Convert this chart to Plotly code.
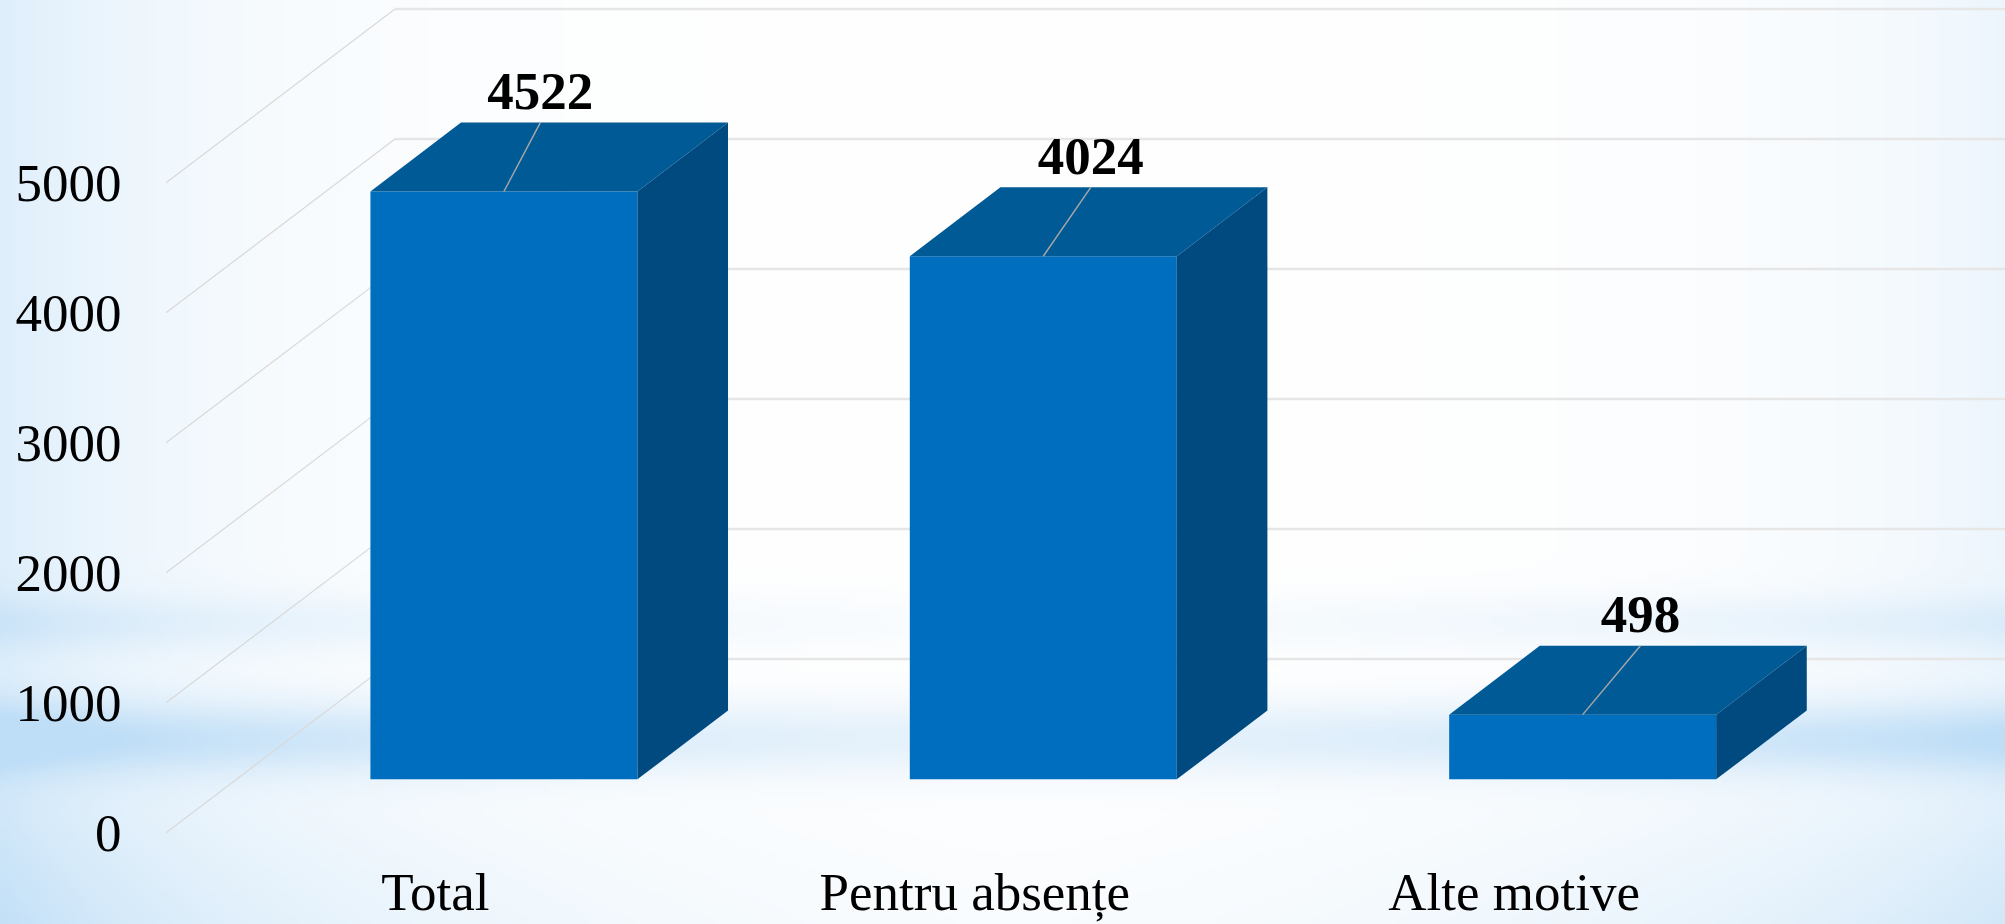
import base64, struct, zlib
import numpy as np
import plotly.graph_objects as go

categories = ["Total", "Pentru absențe", "Alte motive"]
values = [4522, 4024, 498]
axis_ticks = [0, 1000, 2000, 3000, 4000, 5000]

W, H = 2005, 924
FONT = "Liberation Serif"
FRONT, TOP, SIDE = "#006EBF", "#005A96", "#004A80"
GRID, DIAG, LEADER = "#E6E6E6", "#D8D8D8", "#A6A6A6"

# projection of the pseudo-3D box, in axis units
BAR_W = 0.495
BOX_DX, BOX_DY = 0.168, 530
WALL_DX, WALL_BACK, WALL_FRONT = 0.4245, 925, -411
LEADER_DX = [0.0675, 0.088, 0.107]
LABEL_DX = -0.127
X_RANGE = [-0.6265, 2.783]
Y_RANGE = [-451, 5995]


def background_png():
    w, h = 400, 185
    x = np.linspace(0, 1, w)[None, :]
    y = np.linspace(0, 1, h)[:, None]
    edge = np.maximum(np.exp(-x / 0.10), 0.55 * np.exp(-(1 - x) / 0.10))
    side = np.abs(2 * x - 1)
    band = 0.72 * np.exp(-((y - 0.80) / 0.040) ** 2) * (0.45 + 0.55 * np.maximum(side, 0.15))
    band2 = 0.30 * np.exp(-((y - 0.675) / 0.030) ** 2) * (0.2 + 0.8 * side)
    low = 0.42 * np.clip((y - 0.78) / 0.22, 0, 1) * (0.2 + 0.8 * side ** 1.5)
    a = np.clip(0.5 * edge + band + band2 + low, 0, 1)
    c0 = np.array([255.0, 255.0, 255.0])
    c1 = np.array([190.0, 222.0, 247.0])
    img = (c0 + a[..., None] * (c1 - c0)).astype(np.uint8)
    raw = b"".join(b"\x00" + img[r].tobytes() for r in range(h))

    def chunk(t, d):
        return struct.pack(">I", len(d)) + t + d + struct.pack(">I", zlib.crc32(t + d) & 0xffffffff)

    png = b"\x89PNG\r\n\x1a\n" + chunk(b"IHDR", struct.pack(">IIBBBBB", w, h, 8, 2, 0, 0, 0)) \
        + chunk(b"IDAT", zlib.compress(raw)) + chunk(b"IEND", b"")
    return "data:image/png;base64," + base64.b64encode(png).decode()


fig = go.Figure()
xpos = list(range(len(categories)))

shapes = []
for t in axis_ticks:
    shapes.append(dict(type="line", layer="below", xref="x", yref="y", x0=X_RANGE[0] + WALL_DX, x1=X_RANGE[1],
                       y0=t + WALL_BACK, y1=t + WALL_BACK, line=dict(color=GRID, width=2.5)))
    shapes.append(dict(type="line", layer="below", xref="x", yref="y", x0=X_RANGE[0], x1=X_RANGE[0] + WALL_DX,
                       y0=t + WALL_FRONT, y1=t + WALL_BACK, line=dict(color=DIAG, width=1.2)))

fig.add_trace(go.Bar(x=xpos, y=values, width=BAR_W, marker=dict(color=FRONT, line=dict(width=0)),
                     hoverinfo="skip", showlegend=False))

for i, v in enumerate(values):
    l, r = i - BAR_W / 2, i + BAR_W / 2
    fig.add_trace(go.Scatter(x=[l, r, r + BOX_DX, l + BOX_DX, l], y=[v, v, v + BOX_DY, v + BOX_DY, v],
                             mode="lines", fill="toself", fillcolor=TOP, line=dict(width=0),
                             hoverinfo="skip", showlegend=False))
    fig.add_trace(go.Scatter(x=[r, r + BOX_DX, r + BOX_DX, r, r], y=[0, BOX_DY, v + BOX_DY, v, 0],
                             mode="lines", fill="toself", fillcolor=SIDE, line=dict(width=0),
                             hoverinfo="skip", showlegend=False))
    fig.add_trace(go.Scatter(x=[i, i + LEADER_DX[i]], y=[v, v + BOX_DY], mode="lines",
                             line=dict(color=LEADER, width=1.5), hoverinfo="skip", showlegend=False))

fig.add_trace(go.Scatter(x=[i + LEADER_DX[i] for i in xpos], y=[v + BOX_DY for v in values],
                         mode="text", text=[str(v) for v in values], textposition="top center",
                         textfont=dict(family=FONT, size=53, color="black"),
                         texttemplate="<b>%{text}</b>", hoverinfo="skip", showlegend=False, cliponaxis=False))

fig.update_layout(
    width=W, height=H, margin=dict(l=0, r=0, t=0, b=0), paper_bgcolor="white", plot_bgcolor="rgba(0,0,0,0)",
    showlegend=False, shapes=shapes, font=dict(family=FONT, size=53, color="black"),
    images=[dict(source=background_png(), xref="paper", yref="paper", x=0, y=1, sizex=1, sizey=1,
                 sizing="stretch", xanchor="left", yanchor="top", layer="below")],
    xaxis=dict(domain=[166 / W, 1], range=X_RANGE, showgrid=False, zeroline=False, showline=False, automargin=False,
               tickmode="array", tickvals=[i + LABEL_DX for i in xpos], ticktext=categories,
               ticks="outside", ticklen=7, tickcolor="rgba(0,0,0,0)", tickangle=0,
               tickfont=dict(family=FONT, size=53, color="black")),
    yaxis=dict(domain=[(H - 838) / H, 1], range=Y_RANGE, showgrid=False, zeroline=False, showline=False, automargin=False,
               tickmode="array", tickvals=[t + WALL_FRONT for t in axis_ticks], ticktext=[str(t) for t in axis_ticks],
               ticks="outside", ticklen=33, tickcolor="rgba(0,0,0,0)",
               tickfont=dict(family=FONT, size=53, color="black")),
)

fig.write_html("out.html", config=dict(displayModeBar=False),
               post_script="document.body.style.margin='0';document.documentElement.style.overflow='hidden';")
